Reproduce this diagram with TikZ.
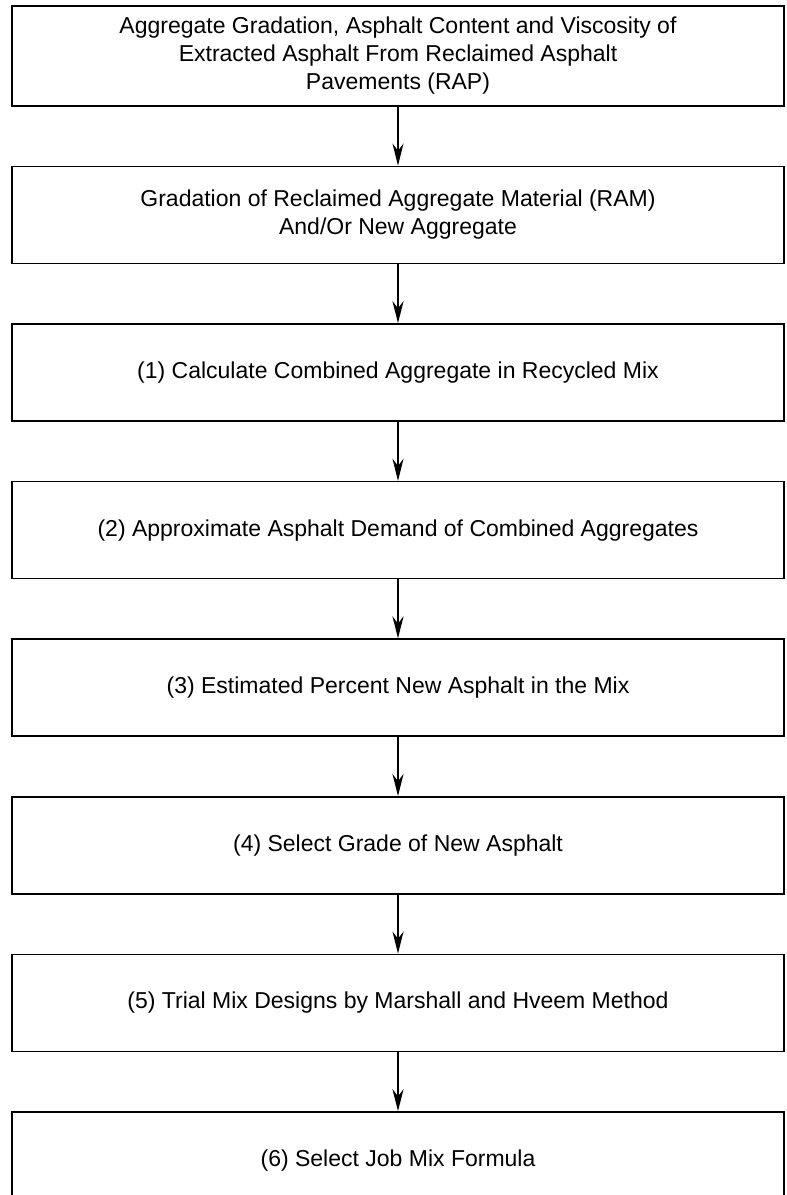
\documentclass[tikz,border=0pt]{standalone}
\usepackage{fontspec}
\setmainfont{Liberation Sans}
\usetikzlibrary{positioning,arrows.meta}
\tikzset{
  step-box/.style={draw=black,line width=1.6pt,minimum width=772pt,
    minimum height=97pt,align=center,inner sep=0pt,
    font=\fontsize{23}{28}\selectfont},
  arrow/.style={-{Stealth[length=22pt,width=11pt]},line width=2.4pt},
}
\begin{document}
\begin{tikzpicture}[node distance=59pt]
  \useasboundingbox (0,0) rectangle (787pt,-1195pt);
  \node[step-box,minimum height=100pt,anchor=north] at (398pt,-5pt) (rap)
    {Aggregate Gradation, Asphalt Content and Viscosity of\\
     Extracted Asphalt From Reclaimed Asphalt\\Pavements (RAP)};
  \node[step-box,below=of rap] (ram)
    {Gradation of Reclaimed Aggregate Material (RAM)\\And/Or New Aggregate};
  \node[step-box,below=of ram] (combined)
    {(1) Calculate Combined Aggregate in Recycled Mix};
  \node[step-box,below=of combined] (demand)
    {(2) Approximate Asphalt Demand of Combined Aggregates};
  \node[step-box,below=of demand] (percent)
    {(3) Estimated Percent New Asphalt in the Mix};
  \node[step-box,below=of percent] (grade)
    {(4) Select Grade of New Asphalt};
  \node[step-box,below=of grade] (trial)
    {(5) Trial Mix Designs by Marshall and Hveem Method};
  \node[step-box,below=of trial] (jmf)
    {(6) Select Job Mix Formula};
  \foreach \a/\b in {rap/ram,ram/combined,combined/demand,demand/percent,
    percent/grade,grade/trial,trial/jmf}
    \draw[arrow] (\a.south) -- (\b.north);
\end{tikzpicture}
\end{document}
